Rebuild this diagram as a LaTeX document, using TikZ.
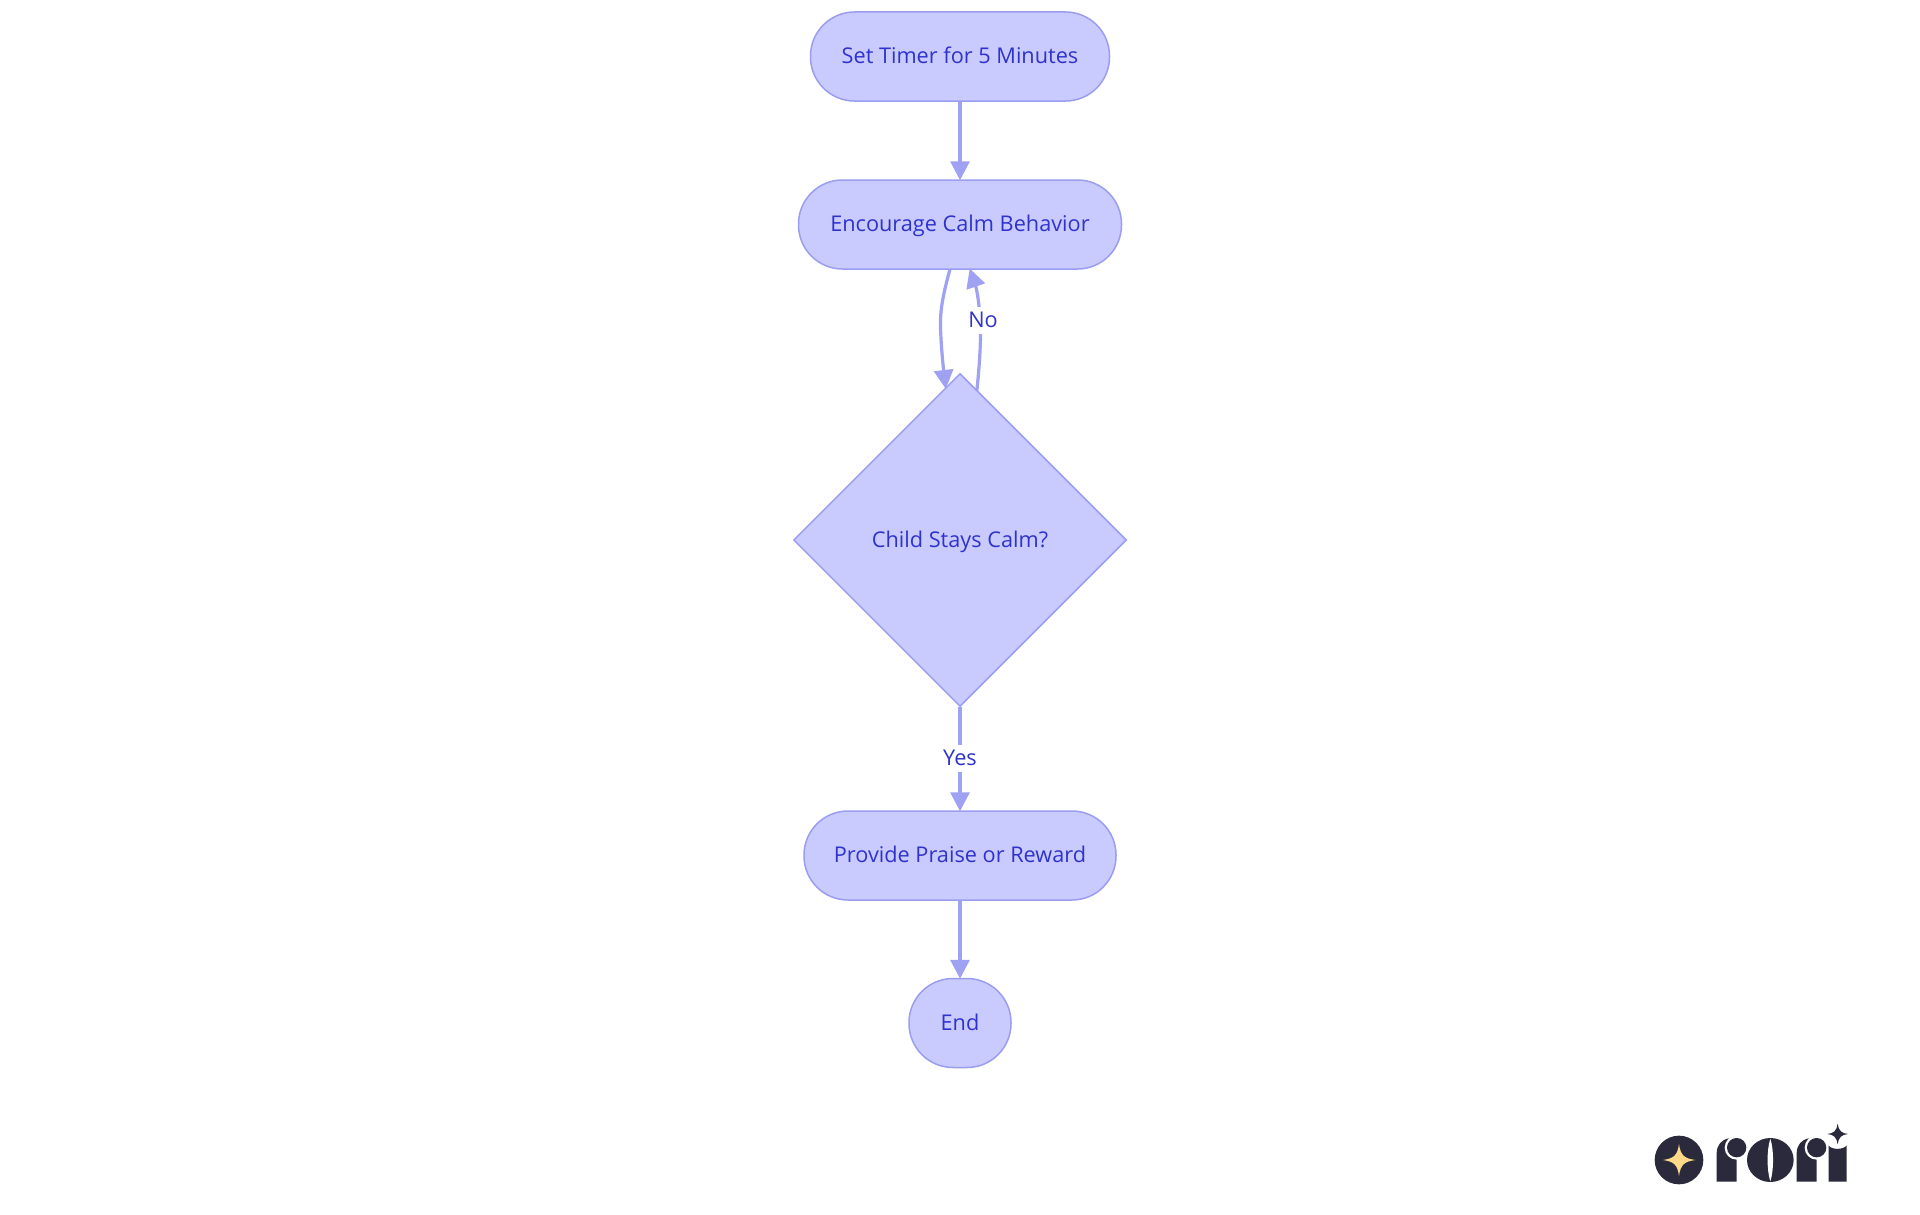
\documentclass[tikz,border=0pt]{standalone}
\usepackage{fontspec}
\setmainfont{Open Sans}
\usetikzlibrary{arrows.meta,shapes.geometric,backgrounds,calc}
\definecolor{nodefill}{HTML}{C9CBFF}
\definecolor{nodeline}{HTML}{9A9DF0}
\definecolor{edgeline}{HTML}{9FA1F3}
\definecolor{labeltext}{HTML}{2F33CC}
\definecolor{logodark}{HTML}{2A2A3C}
\definecolor{logostar}{HTML}{FFD98A}
\tikzset{
  x=1pt,y=-1pt,
  basetext/.style={text=labeltext,font=\fontsize{21.7}{26}\selectfont,text height=18.5pt,text depth=4.5pt},
  pill/.style={basetext,draw=nodeline,fill=nodefill,line width=1.5pt,rectangle,rounded corners=44pt,minimum height=89pt,inner sep=0pt},
  decision/.style={basetext,draw=nodeline,fill=nodefill,line width=1.5pt,diamond,aspect=1,minimum width=333pt,minimum height=333pt,inner sep=0pt},
  edgearrow/.style={draw=edgeline,line width=3.2pt,shorten >=-1pt,-{Triangle[length=19pt,width=19pt,fill=edgeline]}},
  edgelabel/.style={basetext,fill=white,inner xsep=1pt,inner ysep=2pt},
}
\begin{document}
\begin{tikzpicture}
\useasboundingbox (0,0) rectangle (1920,1215);
\begin{scope}[on background layer]
  \fill[white] (0,0) rectangle (1920,1215);
\end{scope}
\node[pill,minimum width=299pt] (timer) at (960,56.5) {Set Timer for 5 Minutes};
\node[pill,minimum width=323pt] (calm) at (960,224.5) {Encourage Calm Behavior};
\node[decision] (stay) at (960,540) {Child Stays Calm?};
\node[pill,minimum width=312pt] (praise) at (960,855.5) {Provide Praise or Reward};
\node[pill,minimum width=102pt] (end) at (960,1023) {End};
\coordinate (calmout) at (950,269);
\coordinate (calmmid) at (940.5,327);
\coordinate (stayin) at (945.7,388);
\coordinate (stayout) at (976.7,392);
\coordinate (backmid) at (980.5,333);
\coordinate (calmin) at (970,269.5);
\begin{scope}[on background layer]
  \draw[edgearrow] (timer.south) -- (calm.north);
  \draw[edgearrow] (calmout) .. controls (943,295) and (940,310) .. (calmmid) .. controls (941,345) and (943,365) .. (stayin);
  \draw[edgearrow] (stayout) .. controls (979,370) and (980.5,350) .. (backmid) .. controls (980.5,310) and (977,290) .. (calmin);
  \draw[edgearrow] (stay.south) -- (praise.north);
  \draw[edgearrow] (praise.south) -- (end.north);
\end{scope}
\node[edgelabel] (nolabel) at (983,320) {No};
\node[edgelabel] (yeslabel) at (960,758) {Yes};
% logo
\begin{scope}[shift={(1640,1100)},x=0.3333pt,y=-0.3333pt]
  \fill[logodark] (117,180) circle[radius=73];
  \fill[logostar] (69,180) .. controls (100,175) and (112,168) .. (117,132) .. controls (122,168) and (134,175) .. (166,180) .. controls (134,185) and (122,192) .. (117,228) .. controls (112,192) and (100,185) .. (69,180) -- cycle;
  % first r
  \fill[logodark] (230,245) -- (230,160) .. controls (230,135) and (245,118) .. (268,115) -- (290,143) -- (290,245) -- cycle;
  \fill[white] (290,143) circle[radius=36];
  \fill[logodark] (290,143) circle[radius=29];
  % o
  \fill[logodark] (391,180) ellipse[x radius=70,y radius=66];
  \fill[white] (391,116) .. controls (402,150) and (402,210) .. (391,244) .. controls (380,210) and (380,150) .. (391,116) -- cycle;
  % second r
  \fill[logodark] (470,245) -- (470,160) .. controls (470,135) and (485,118) .. (508,115) -- (530,143) -- (530,245) -- cycle;
  \fill[white] (530,143) circle[radius=36];
  \fill[logodark] (530,143) circle[radius=29];
  % i
  \fill[logodark] (566,245) -- (566,136) .. controls (572,150) and (612,150) .. (620,136) -- (620,245) -- cycle;
  \fill[logodark] (562,102) .. controls (582,100) and (590,92) .. (593,71) .. controls (596,92) and (604,100) .. (624,102) .. controls (604,104) and (596,112) .. (593,133) .. controls (590,112) and (582,104) .. (562,102) -- cycle;
\end{scope}
\end{tikzpicture}
\end{document}
